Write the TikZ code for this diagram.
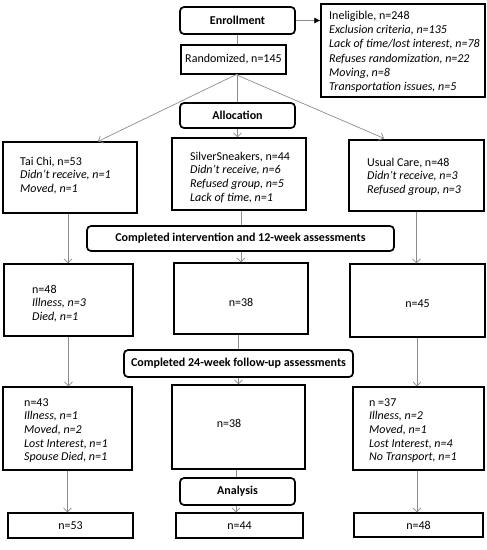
\documentclass[tikz,border=0pt]{standalone}
\usepackage{fontspec}
\setmainfont{Carlito}
\usetikzlibrary{arrows.meta,calc}
\begin{document}
\begin{tikzpicture}[x=1pt,y=-1pt,
  box/.style={draw=black,line width=1.3pt,inner sep=0pt,fill=white},
  rbox/.style={draw=black,line width=1.7pt,rounded corners=4pt,inner sep=0pt,fill=white,font=\fontsize{12}{13}\selectfont\bfseries},
  txt/.style={anchor=base west,inner sep=0pt,font=\fontsize{12}{13.7}\selectfont},
  itx/.style={txt,font=\fontsize{12}{13.7}\selectfont\itshape},
  ctx/.style={anchor=base,inner sep=0pt,font=\fontsize{12}{13.7}\selectfont},
  conn/.style={draw=black!45,line width=0.7pt},
  arr/.style={conn,-{Straight Barb[length=4pt,width=8pt]}},
]
\useasboundingbox (0,0) rectangle (487,550);
% boxes
\node[rbox,minimum width=115,minimum height=27] (enroll) at (237.5,20.5) {Enrollment};
\node[box,minimum width=164,minimum height=93] (inel) at (403,50.5) {};
\node[box,minimum width=105,minimum height=29,font=\fontsize{12}{13.7}\selectfont] (rand) at (233.5,59.5) {Randomized, n=145};
\node[rbox,minimum width=115,minimum height=25] (alloc) at (237.5,115.5) {Allocation};
\node[box,minimum width=134,minimum height=71] (taichi) at (70,177.5) {};
\node[box,minimum width=134,minimum height=72] (silver) at (239,174) {};
\node[box,minimum width=135,minimum height=71] (usual) at (416.5,175.5) {};
\node[rbox,minimum width=307,minimum height=25] (comp12) at (240.5,238.5) {Completed intervention and 12-week assessments};
\node[box,minimum width=129,minimum height=72] (b48) at (68.5,300) {};
\node[box,minimum width=134,minimum height=71] (b38) at (241,298.5) {};
\node[box,minimum width=135,minimum height=73] (b45) at (417.5,300.5) {};
\node[rbox,minimum width=229,minimum height=27] (comp24) at (238.5,363.5) {Completed 24-week follow-up assessments};
\node[box,minimum width=129,minimum height=83] (b43) at (67.5,428.5) {};
\node[box,minimum width=133,minimum height=84] (b38b) at (238.5,427) {};
\node[box,minimum width=131,minimum height=83] (b37) at (418.5,428.5) {};
\node[rbox,minimum width=115,minimum height=27] (analysis) at (237.5,491.5) {Analysis};
\node[box,minimum width=125,minimum height=25] (f53) at (70.5,525.5) {};
\node[box,minimum width=127,minimum height=25] (f44) at (239.5,525.5) {};
\node[box,minimum width=129,minimum height=24] (f48) at (418.5,525) {};
% texts
\node[txt] (i1) at (329,19.5) {Ineligible, n=248};
\node[itx] (i2) at (329,33.8) {Exclusion criteria, n=135};
\node[itx] (i3) at (329,47.9) {Lack of time/lost interest, n=78};
\node[itx] (i4) at (329,62) {Refuses randomization, n=22};
\node[itx] (i5) at (329,76.1) {Moving, n=8};
\node[itx] (i6) at (329,90.2) {Transportation issues, n=5};
\node[txt] (t1) at (20,165) {Tai Chi, n=53};
\node[itx] (t2) at (20,178.7) {Didn’t receive, n=1};
\node[itx] (t3) at (20,192.4) {Moved, n=1};
\node[txt] (s1) at (190,160) {SilverSneakers, n=44};
\node[itx] (s2) at (190,173.7) {Didn’t receive, n=6};
\node[itx] (s3) at (190,187.4) {Refused group, n=5};
\node[itx] (s4) at (190,201.1) {Lack of time, n=1};
\node[txt] (u1) at (367,166) {Usual Care, n=48};
\node[itx] (u2) at (367,179.7) {Didn’t receive, n=3};
\node[itx] (u3) at (367,193.4) {Refused group, n=3};
\node[txt] (a1) at (32,293) {n=48};
\node[itx] (a2) at (32,306.7) {Illness, n=3};
\node[itx] (a3) at (32,320.4) {Died, n=1};
\node[ctx] (m38) at (241,306) {n=38};
\node[ctx] (r45) at (417.5,307) {n=45};
\node[txt] (c1) at (24,406) {n=43};
\node[itx] (c2) at (24,419.7) {Illness, n=1};
\node[itx] (c3) at (24,433.4) {Moved, n=2};
\node[itx] (c4) at (24,447.1) {Lost Interest, n=1};
\node[itx] (c5) at (24,460.8) {Spouse Died, n=1};
\node[ctx] (m38b) at (229,427) {n=38};
\node[txt] (d1) at (369,406) {n =37};
\node[itx] (d2) at (369,419.7) {Illness, n=2};
\node[itx] (d3) at (369,433.4) {Moved, n=1};
\node[itx] (d4) at (369,447.1) {Lost Interest, n=4};
\node[itx] (d5) at (369,460.8) {No Transport, n=1};
\node[ctx] (e53) at (f53) [yshift=-4pt] {n=53};
\node[ctx] (e44) at (f44) [yshift=-4pt] {n=44};
\node[ctx] (e48) at (f48) [yshift=-4pt] {n=48};
% connectors
\draw[conn,-{Latex[length=6pt,width=6pt,color=black]}] (enroll.east) -- (inel.west |- enroll.east);
\draw[conn] (enroll.south) -- (enroll.south |- rand.north);
\draw[arr] ($(rand.south)+(2.5,0)$) -- ($(taichi.north)+(28,0)$);
\draw[arr] ($(rand.south)+(2.5,0)$) -- ($(usual.north)+(-32.5,-1)$);
\draw[conn] ($(rand.south)+(2.5,0)$) -- (rand.south -| alloc.north) -- (alloc.north);
\draw[arr] (alloc.south) -- (alloc.south |- silver.north);
\draw[conn] ($(silver.south)+(2,0)$) -- ($(silver.south |- comp12.north)+(2,0)$);
\draw[arr] ($(comp12.south)+(0.5,0)$) -- ($(comp12.south |- b38.north)+(0.5,0)$);
\draw[arr] ($(taichi.south)+(-2,0)$) -- ($(taichi.south |- b48.north)+(-2,0)$);
\draw[arr] (usual.south) -- (usual.south |- b45.north);
\draw[arr] (b48.south) -- (b48.south |- b43.north);
\draw[conn] ($(b38.south)+(-3,0)$) -- ($(b38.south |- comp24.north)+(-3,0)$);
\draw[arr] (comp24.south) -- (comp24.south |- b38b.north);
\draw[arr] ($(b45.south)+(-0.5,0)$) -- ($(b45.south |- b37.north)+(-0.5,0)$);
\draw[arr] (b43.south) -- (b43.south |- f53.north);
\draw[conn] ($(b38b.south)+(-2.5,0)$) -- ($(b38b.south |- analysis.north)+(-2.5,0)$);
\draw[arr] ($(analysis.south)+(-1.5,0)$) -- ($(analysis.south |- f44.north)+(-1.5,0)$);
\draw[arr] ($(b37.south)+(-1.5,0)$) -- ($(b37.south |- f48.north)+(-1.5,0)$);
\end{tikzpicture}
\end{document}
